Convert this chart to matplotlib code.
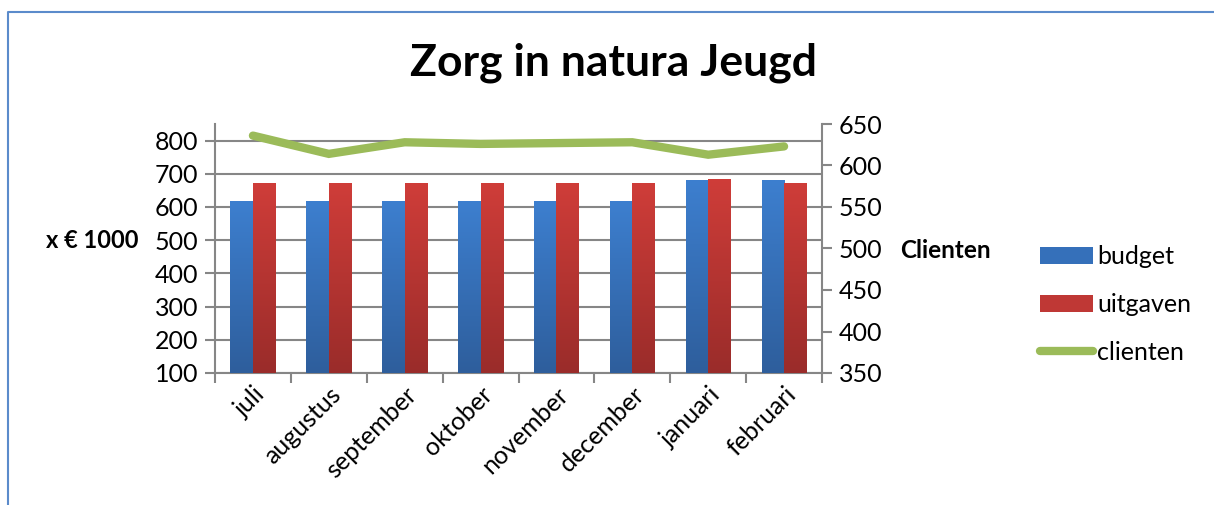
import matplotlib
matplotlib.use("Agg")
import matplotlib.pyplot as plt
import numpy as np
from matplotlib.patches import Patch
from matplotlib.lines import Line2D
from matplotlib.colors import LinearSegmentedColormap

months = ["juli", "augustus", "september", "oktober", "november", "december", "januari", "februari"]
budget = [617, 617, 617, 617, 617, 617, 680, 680]
uitgaven = [671, 671, 671, 671, 671, 671, 685, 673]
clienten = [636, 614, 628, 626, 627, 628, 613, 623]

FONT = ["Lato", "DejaVu Sans"]
plt.rcParams["font.family"] = FONT

fig = plt.figure(figsize=(12.14, 5.05), dpi=100)
ax = fig.add_axes([215/1214, 1-373/505, 607/1214, 249/505])
ax2 = ax.twinx()

grey = "#868686"
x = np.arange(len(months))
w = 0.296

b1 = ax.bar(x - w/2, budget, w, color="#3A7BCB", zorder=2)
b2 = ax.bar(x + w/2, uitgaven, w, color="#CC3B37", zorder=2)

cm_blue = LinearSegmentedColormap.from_list("b", ["#2E5E9C", "#3D7FCF"])
cm_red = LinearSegmentedColormap.from_list("r", ["#9A2C2A", "#CF3D39"])
grad = np.linspace(0, 1, 256).reshape(-1, 1)
for bars, cm in ((b1, cm_blue), (b2, cm_red)):
    for p in bars:
        x0, y0 = p.get_x(), p.get_y()
        im = ax.imshow(grad, cmap=cm, origin="lower", aspect="auto",
                       extent=[x0, x0 + p.get_width(), 100, y0 + p.get_height()],
                       zorder=3)
        im.set_clip_path(p)

ax.set_xlim(-0.5, len(months) - 0.5)
ax.set_ylim(100, 850)
ax.set_yticks(np.arange(100, 801, 100))
ax.yaxis.grid(True, color=grey, linewidth=1.5, zorder=0)
ax.set_axisbelow(True)

ax2.plot(x, clienten, color="#9BBB59", linewidth=6, solid_capstyle="round",
         solid_joinstyle="miter", zorder=5)
ax2.set_ylim(350, 650)
ax2.set_yticks(np.arange(350, 651, 50))

ax.set_xticks(x)
ax.set_xticklabels(months, rotation=45, ha="right", rotation_mode="anchor", fontsize=18)
ax.set_xticks(np.arange(-0.5, len(months)), minor=True)
ax.tick_params(axis="x", which="major", length=0, pad=7)
ax.tick_params(axis="x", which="minor", length=7, width=1.5, color=grey, direction="out")
ax.tick_params(axis="y", length=7, width=1.5, color=grey, labelsize=18, direction="out", pad=5)
ax2.tick_params(axis="y", length=7, width=1.5, color=grey, labelsize=18, direction="out", pad=5)

for a in (ax, ax2):
    a.spines["top"].set_visible(False)
    for s in ("left", "right", "bottom"):
        a.spines[s].set_color(grey)
        a.spines[s].set_linewidth(1.5)
ax.spines["right"].set_visible(False)
ax2.spines["left"].set_visible(False)
ax2.spines["bottom"].set_visible(False)

fig.text(614/1214, 1 - 63/505, "Zorg in natura Jeugd", ha="center", va="center",
         fontsize=32, fontweight="bold")
fig.text(92/1214, 1 - 240/505, "x € 1000", ha="center", va="center",
         fontsize=17, fontweight="bold")
fig.text(945/1214, 1 - 250/505, "Clienten", ha="center", va="center",
         fontsize=17.5, fontweight="bold")

handles = [Patch(facecolor="#3570BA"), Patch(facecolor="#BF3835"),
           Line2D([], [], color="#9BBB59", linewidth=6, solid_capstyle="round")]
fig.legend(handles, ["budget", "uitgaven", "clienten"], loc="upper left",
           bbox_to_anchor=(1040/1214, 1 - 245/505), frameon=False, fontsize=18,
           handlelength=2.1, handleheight=0.65, handletextpad=0.2, labelspacing=1.0,
           borderaxespad=0, borderpad=0)

fig.add_artist(Line2D([8/1214, 8/1214, 1], [0, 1 - 12/505, 1 - 12/505],
                      transform=fig.transFigure, color="#5B8BCB", linewidth=1.5))

fig.savefig("out.png", dpi=100)
